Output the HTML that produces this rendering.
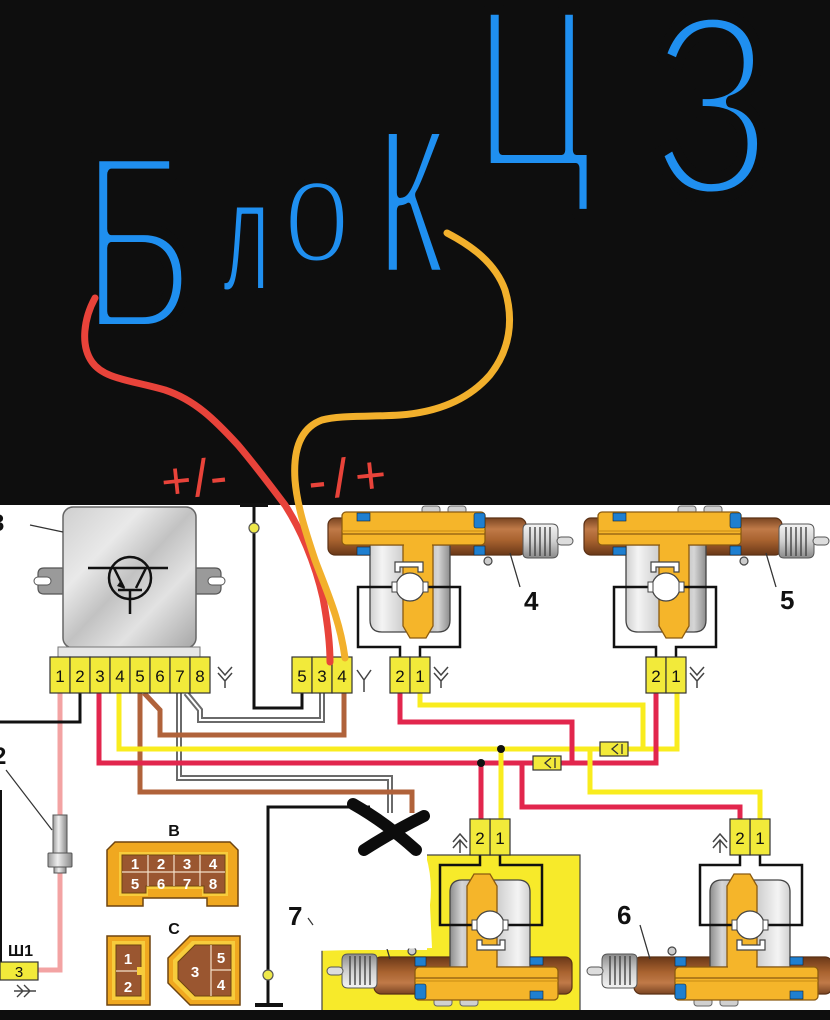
<!DOCTYPE html>
<html><head><meta charset="utf-8"><style>
html,body{margin:0;padding:0;background:#fff;}
svg{display:block;}
text{font-family:"Liberation Sans","DejaVu Sans",sans-serif;}
</style></head><body>
<svg width="830" height="1020" viewBox="0 0 830 1020" xmlns="http://www.w3.org/2000/svg">
<defs>
<linearGradient id="cyl" x1="0" y1="0" x2="1" y2="0">
<stop offset="0" stop-color="#cfcfcf"/><stop offset="0.15" stop-color="#f4f4f4"/><stop offset="0.4" stop-color="#d0d0d0"/><stop offset="0.65" stop-color="#b0b0b0"/><stop offset="0.85" stop-color="#d6d6d6"/><stop offset="1" stop-color="#8c8c8c"/>
</linearGradient>
<linearGradient id="brn" x1="0" y1="0" x2="0" y2="1">
<stop offset="0" stop-color="#7a4522"/><stop offset="0.3" stop-color="#c07a48"/><stop offset="0.6" stop-color="#a8622f"/><stop offset="1" stop-color="#6a3818"/>
</linearGradient>
<linearGradient id="boot" x1="0" y1="0" x2="0" y2="1">
<stop offset="0" stop-color="#f4f4f4"/><stop offset="0.5" stop-color="#d0d0d0"/><stop offset="1" stop-color="#8a8a8a"/>
</linearGradient>
<linearGradient id="mod" x1="0" y1="0" x2="1" y2="1">
<stop offset="0" stop-color="#cfcfcf"/><stop offset="0.3" stop-color="#e9e9e9"/><stop offset="0.5" stop-color="#c2c2c2"/><stop offset="0.7" stop-color="#e2e2e2"/><stop offset="1" stop-color="#a6a6a6"/>
</linearGradient>
<linearGradient id="sens" x1="0" y1="0" x2="1" y2="0">
<stop offset="0" stop-color="#9a9a9a"/><stop offset="0.4" stop-color="#eeeeee"/><stop offset="1" stop-color="#888"/>
</linearGradient>
<g id="act">
 <rect x="422" y="506" width="18" height="8" rx="3" fill="#d0d0d0" stroke="#666" stroke-width="1"/>
 <rect x="448" y="506" width="18" height="8" rx="3" fill="#d0d0d0" stroke="#666" stroke-width="1"/>
 <rect x="328" y="518" width="198" height="37" rx="7" fill="url(#brn)" stroke="#5a3015" stroke-width="1.2"/>
 <path d="M523,529 Q523,524 528,524 H552 Q558,524 558,530 V552 Q558,558 552,558 H528 Q523,558 523,553 Z" fill="url(#boot)" stroke="#555" stroke-width="1"/>
 <path d="M530,527 V556 M535,527 V556 M540,527 V556 M545,527 V556 M550,527 V556" stroke="#444" stroke-width="1.4"/>
 <rect x="557" y="537" width="16" height="8" rx="4" fill="#ddd" stroke="#555" stroke-width="1"/>
 <circle cx="488" cy="561" r="4" fill="#ccc" stroke="#444" stroke-width="1.2"/>
 <path d="M370,545 V620 Q370,632 382,632 H438 Q450,632 450,620 V545 Z" fill="url(#cyl)" stroke="#444" stroke-width="1.3"/>
 <path d="M403,540 V626 L410,638 H426 L433,626 V540 Z" fill="#f5b52a" stroke="#8a5a10" stroke-width="1.3"/>
 <rect x="342" y="512" width="143" height="33" rx="4" fill="#f5b52a" stroke="#8a5a10" stroke-width="1.3"/>
 <rect x="404" y="540" width="28" height="8" fill="#f5b52a"/>
 <line x1="342" y1="531" x2="485" y2="531" stroke="#c88a14" stroke-width="1"/>
 <line x1="342" y1="534" x2="485" y2="534" stroke="#8a5a10" stroke-width="1.2"/>
 <rect x="357" y="513" width="13" height="8" fill="#1e7fd0" stroke="#123" stroke-width="0.6"/>
 <rect x="474" y="513" width="11" height="15" rx="2" fill="#1e7fd0" stroke="#123" stroke-width="0.6"/>
 <rect x="357" y="547" width="13" height="8" fill="#1e7fd0" stroke="#123" stroke-width="0.6"/>
 <rect x="474" y="546" width="11" height="9" fill="#1e7fd0" stroke="#123" stroke-width="0.6"/>
 <path d="M395,562 H423 V572 H418 V567 H400 V572 H395 Z" fill="#fff" stroke="#444" stroke-width="1.2"/>
 <path d="M393,587 H358 V647 H400 V657 M427,587 H460 V647 H420 V657" fill="none" stroke="#111" stroke-width="2.5"/>
 <circle cx="410" cy="587" r="14" fill="#fff" stroke="#444" stroke-width="1.3"/>
 <rect x="392" y="582" width="5" height="10" fill="#fff" stroke="#444" stroke-width="1"/>
 <rect x="423" y="582" width="5" height="10" fill="#fff" stroke="#444" stroke-width="1"/>
 <line x1="510" y1="553" x2="520" y2="587" stroke="#333" stroke-width="1.3"/>
 <rect x="390" y="657" width="20" height="36" fill="#f2ea3a" stroke="#333" stroke-width="1.2"/>
 <rect x="410" y="657" width="20" height="36" fill="#f2ea3a" stroke="#333" stroke-width="1.2"/>
</g>
</defs>

<rect width="830" height="1020" fill="#fff"/>
<rect width="830" height="505" fill="#0e0e0e"/>
<rect y="1010" width="830" height="10" fill="#0e0e0e"/>

<!-- yellow background for actuator 7 -->
<rect x="427" y="855" width="153" height="155" fill="#f7ea2a"/>
<rect x="322" y="950" width="106" height="60" fill="#f7ea2a"/>
<path d="M322,950 V1010 M427,855 H580 V1010" fill="none" stroke="#444" stroke-width="1.2"/>

<!-- wires -->
<g fill="none" stroke-linejoin="miter">
 <path d="M60,693 V970 H38" stroke="#f3a3a3" stroke-width="5"/>
 <path d="M80,693 V722 H0" stroke="#111" stroke-width="3"/>
 <path d="M302,693 V708 H254 V505" stroke="#111" stroke-width="3"/>
 <path d="M370,807 H268 V1005" stroke="#111" stroke-width="3"/>
 <line x1="1" y1="790" x2="1" y2="965" stroke="#111" stroke-width="2"/>
 <path d="M179,693 V778 H390 V813" stroke="#6a6a6a" stroke-width="6"/>
 <path d="M179,693 V778 H390 V813" stroke="#fff" stroke-width="2"/>
 <path d="M186,693 L200,710 V720 H322 V693" stroke="#6a6a6a" stroke-width="6"/>
 <path d="M186,693 L200,710 V720 H322 V693" stroke="#fff" stroke-width="2"/>
 <path d="M140,693 V792 H412 V813" stroke="#b0623a" stroke-width="5"/>
 <path d="M144,693 L160,710 V735 H344 V693" stroke="#b0623a" stroke-width="5"/>
 <path d="M119,693 V749 H677 V693" stroke="#f9ec1e" stroke-width="5"/>
 <path d="M420,693 V705 H643 V749" stroke="#f9ec1e" stroke-width="5"/>
 <path d="M99,693 V763 H656 V693" stroke="#e2264d" stroke-width="5"/>
 <path d="M400,693 V722 H572 V763" stroke="#e2264d" stroke-width="5"/>
 <path d="M481,763 V819" stroke="#e2264d" stroke-width="5"/>
 <path d="M522,763 V807 H740 V819" stroke="#e2264d" stroke-width="5"/>
 <path d="M501,749 V819" stroke="#f9ec1e" stroke-width="5"/>
 <path d="M590,749 V792 H760 V819" stroke="#f9ec1e" stroke-width="5"/>
</g>
<circle cx="481" cy="763" r="4" fill="#111"/>
<circle cx="501" cy="749" r="4" fill="#111"/>
<!-- inline connectors -->
<rect x="533" y="756" width="28" height="14" fill="#f2ea3a" stroke="#333" stroke-width="1.2"/>
<path d="M551,758 L545,763 L551,768 M555,758 V768" fill="none" stroke="#333" stroke-width="1.3"/>
<rect x="600" y="742" width="28" height="14" fill="#f2ea3a" stroke="#333" stroke-width="1.2"/>
<path d="M618,744 L612,749 L618,754 M622,744 V754" fill="none" stroke="#333" stroke-width="1.3"/>

<!-- ground symbols -->
<rect x="240" y="503" width="28" height="4" fill="#111"/>
<circle cx="254" cy="528" r="5" fill="#eee84a" stroke="#555" stroke-width="1.2"/>
<rect x="255" y="1003" width="28" height="4" fill="#111"/>
<circle cx="268" cy="975" r="5" fill="#eee84a" stroke="#555" stroke-width="1.2"/>

<!-- module 3 -->
<path d="M63,568 H44 Q38,568 38,574 V588 Q38,594 44,594 H63 Z" fill="#9a9a9a" stroke="#555" stroke-width="1.2"/>
<rect x="34" y="577" width="17" height="8" rx="4" fill="#fff" stroke="#555" stroke-width="1"/>
<path d="M196,568 H215 Q221,568 221,574 V588 Q221,594 215,594 H196 Z" fill="#9a9a9a" stroke="#555" stroke-width="1.2"/>
<rect x="208" y="577" width="17" height="8" rx="4" fill="#fff" stroke="#555" stroke-width="1"/>
<rect x="63" y="507" width="133" height="141" rx="10" fill="url(#mod)" stroke="#666" stroke-width="1.5"/>
<rect x="58" y="647" width="142" height="10" fill="#e6e6e6" stroke="#777" stroke-width="1"/>
<g fill="none" stroke="#111" stroke-width="2.5">
 <circle cx="130" cy="578" r="21"/>
 <path d="M88,568 H168 M114,568 L124,588 M146,568 L136,588 M118,590 H142 M130,590 V614"/>
</g>
<path d="M121,580 L125,589 L117,586 Z" fill="#111"/>
<line x1="30" y1="525" x2="63" y2="532" stroke="#333" stroke-width="1.2"/>
<text x="-9" y="531" font-size="24" font-weight="bold" fill="#111">3</text>

<g stroke="#333" stroke-width="1.2" fill="#f2ea3a">
 <rect x="50" y="657" width="20" height="36"/><rect x="70" y="657" width="20" height="36"/>
 <rect x="90" y="657" width="20" height="36"/><rect x="110" y="657" width="20" height="36"/>
 <rect x="130" y="657" width="20" height="36"/><rect x="150" y="657" width="20" height="36"/>
 <rect x="170" y="657" width="20" height="36"/><rect x="190" y="657" width="20" height="36"/>
 <rect x="292" y="657" width="20" height="36"/><rect x="312" y="657" width="20" height="36"/>
 <rect x="332" y="657" width="20" height="36"/>
</g>
<g font-size="17" fill="#111" text-anchor="middle">
 <text x="60" y="682">1</text><text x="80" y="682">2</text><text x="100" y="682">3</text><text x="120" y="682">4</text>
 <text x="140" y="682">5</text><text x="160" y="682">6</text><text x="180" y="682">7</text><text x="200" y="682">8</text>
 <text x="302" y="682">5</text><text x="322" y="682">3</text><text x="342" y="682">4</text>
</g>
<g fill="none" stroke="#444" stroke-width="1.5">
 <path d="M218,667 L225,675 L232,667 M218,673 L225,681 L232,673 M225,681 V688"/>
 <path d="M357,670 L364,680 L371,670 M364,680 V692"/>
 <path d="M434,667 L441,675 L448,667 M434,673 L441,681 L448,673 M441,681 V688"/>
 <path d="M690,667 L697,675 L704,667 M690,673 L697,681 L704,673 M697,681 V688"/>
 <path d="M453,842 L460,834 L467,842 M453,848 L460,840 L467,848 M460,840 V853"/>
 <path d="M713,842 L720,834 L727,842 M713,848 L720,840 L727,848 M720,840 V853"/>
</g>

<!-- actuators -->
<use href="#act"/>
<use href="#act" transform="translate(256,0)"/>
<use href="#act" transform="translate(900,1512) scale(-1,-1)"/>
<use href="#act" transform="translate(1160,1512) scale(-1,-1)"/>

<!-- white cover patch near 7 -->
<path d="M312,857 L426,856 Q433,880 430,905 L432,948 L313,951 Z" fill="#fff"/>

<g font-size="17" fill="#111" text-anchor="middle">
 <text x="400" y="682">2</text><text x="420" y="682">1</text>
 <text x="656" y="682">2</text><text x="676" y="682">1</text>
 <text x="480" y="844">2</text><text x="500" y="844">1</text>
 <text x="740" y="844">2</text><text x="760" y="844">1</text>
</g>
<g font-size="26" font-weight="bold" fill="#111">
 <text x="524" y="610">4</text>
 <text x="780" y="609">5</text>
 <text x="617" y="924">6</text>
 <text x="288" y="925">7</text>
</g>
<line x1="308" y1="918" x2="313" y2="925" stroke="#333" stroke-width="1.2"/>

<!-- sensor 2 -->
<line x1="6" y1="770" x2="52" y2="830" stroke="#333" stroke-width="1.2"/>
<text x="-7" y="764" font-size="24" font-weight="bold" fill="#111">2</text>
<rect x="53" y="815" width="14" height="40" fill="url(#sens)" stroke="#555" stroke-width="1"/>
<rect x="48" y="853" width="24" height="14" rx="1" fill="url(#sens)" stroke="#555" stroke-width="1"/>
<rect x="54" y="867" width="12" height="6" fill="url(#sens)" stroke="#555" stroke-width="1"/>

<!-- Ш1 -->
<rect x="0" y="962" width="38" height="18" fill="#f2ea3a" stroke="#333" stroke-width="1.2"/>
<text x="19" y="977" font-size="15" fill="#111" text-anchor="middle">3</text>
<text x="8" y="956" font-size="16" font-weight="bold" fill="#111">Ш1</text>
<path d="M14,991 H36 M17,985 L23,991 L17,997 M24,985 L30,991 L24,997" fill="none" stroke="#444" stroke-width="1.4"/>

<!-- connector B -->
<text x="174" y="836" font-size="16" font-weight="bold" fill="#111" text-anchor="middle">В</text>
<path d="M115,842 H230 L238,850 V906 H207 V898 H143 V906 H107 V850 Z" fill="#f0a820" stroke="#6e4410" stroke-width="1.5"/>
<path d="M119,852 H228 V896 H202 V889 H148 V896 H119 Z" fill="#f7cc3c"/>
<path d="M122,855 H225 V893 H204 V886 H146 V893 H122 Z" fill="#9a5630" stroke="#6e4410" stroke-width="1"/>
<path d="M148,855 V886 M174,855 V886 M200,855 V886 M122,872 H225" stroke="#f3e0c8" stroke-width="1.2"/>
<g font-size="15" font-weight="bold" fill="#fff" text-anchor="middle">
 <text x="135" y="869">1</text><text x="161" y="869">2</text><text x="187" y="869">3</text><text x="213" y="869">4</text>
 <text x="135" y="889">5</text><text x="161" y="889">6</text><text x="187" y="889">7</text><text x="213" y="889">8</text>
</g>

<!-- connector C -->
<text x="174" y="934" font-size="16" font-weight="bold" fill="#111" text-anchor="middle">С</text>
<rect x="107" y="936" width="43" height="69" fill="#f0a820" stroke="#6e4410" stroke-width="1.5"/>
<rect x="112" y="941" width="33" height="59" fill="#f7cc3c"/>
<rect x="116" y="945" width="25" height="51" fill="#9a5630" stroke="#6e4410" stroke-width="1"/>
<rect x="137" y="967" width="5" height="8" fill="#f7cc3c"/>
<line x1="116" y1="971" x2="137" y2="971" stroke="#f3e0c8" stroke-width="1.2"/>
<path d="M190,936 H240 V1005 H190 L168,983 V958 Z" fill="#f0a820" stroke="#6e4410" stroke-width="1.5"/>
<path d="M192,941 H235 V1000 H192 L173,981 V960 Z" fill="#f7cc3c"/>
<path d="M195,945 H231 V996 H195 L178,979 V962 Z" fill="#9a5630" stroke="#6e4410" stroke-width="1"/>
<path d="M211,945 V996 M211,970 H231" stroke="#f3e0c8" stroke-width="1.2"/>
<g font-size="15" font-weight="bold" fill="#fff" text-anchor="middle">
 <text x="128" y="964">1</text><text x="128" y="992">2</text>
 <text x="195" y="977">3</text><text x="221" y="963">5</text><text x="221" y="990">4</text>
</g>

<!-- X scribble -->
<path d="M353,804 Q385,822 416,850 M364,850 Q392,832 424,816" fill="none" stroke="#0c0c0c" stroke-width="12" stroke-linecap="round"/>

<!-- handwriting -->
<g fill="#1f8ff0" stroke="#0e0e0e" stroke-linejoin="round">
 <text transform="translate(81,330) scale(0.68,1)" font-size="254" stroke-width="12">Б</text>
 <text transform="translate(223,290) scale(0.5,1)" font-size="160" stroke-width="4">л</text>
 <text transform="translate(283,262) scale(0.8,1)" font-size="152" stroke-width="6">о</text>
 <text transform="translate(375,275) scale(1,1.73)" font-size="160" stroke-width="6">к</text>
 <text transform="translate(474,168) scale(0.7,1)" font-size="230" stroke-width="10">Ц</text>
 <text transform="translate(652,195) scale(0.76,1)" font-size="260" stroke-width="12">З</text>
</g>
<g fill="#e8433a">
 <text transform="translate(163,500) rotate(-6)" font-size="52" letter-spacing="2">+/-</text>
 <text transform="translate(310,500) rotate(-6)" font-size="54" letter-spacing="7">-/+</text>
</g>
<path d="M95,298 C84,318 80,345 92,362 S130,380 165,390 C195,400 215,420 238,445 C255,465 270,485 285,505 C300,528 315,562 323,598 C328,625 330,645 330,662" fill="none" stroke="#e8433a" stroke-width="7" stroke-linecap="round"/>
<path d="M447,233 C470,245 495,262 505,290 C514,320 510,350 490,375 C470,398 440,412 400,415 C370,417 340,415 322,420 C300,428 293,450 295,480 C297,505 305,530 315,560 C327,592 340,620 345,658" fill="none" stroke="#f2b02c" stroke-width="7" stroke-linecap="round"/>
</svg>
</body></html>
